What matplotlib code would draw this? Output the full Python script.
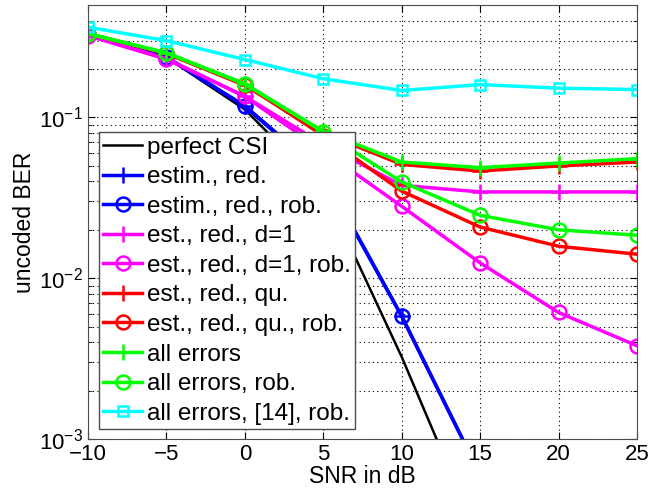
import numpy as np
import matplotlib
matplotlib.use("Agg")
import matplotlib.pyplot as plt
from matplotlib.ticker import LogLocator, NullFormatter

plt.rcParams['font.family'] = ['Liberation Sans', 'DejaVu Sans']

# SNR in dB
snr = [-10, -5, 0, 5, 10, 15, 20, 25]

# BER-Kurven
perfect_csi = [0.330, 0.236, 0.112, 0.036, 0.00324, 0.00023, 0.00002, 0.000002]
estim_red = [0.331, 0.237, 0.117, 0.044, 0.0058, 0.0006, 0.00006, 0.000006]
estim_red_rob = [0.331, 0.237, 0.118, 0.045, 0.0058, 0.0006, 0.00006, 0.000006]
est_d1 = [0.325, 0.232, 0.135, 0.068, 0.0378, 0.0344, 0.0344, 0.0344]
est_d1_rob = [0.322, 0.230, 0.135, 0.062, 0.0280, 0.01245, 0.00612, 0.0038]
est_qu = [0.332, 0.250, 0.158, 0.080, 0.0510, 0.0464, 0.0499, 0.0528]
est_qu_rob = [0.331, 0.250, 0.160, 0.077, 0.0348, 0.0208, 0.0158, 0.0141]
all_err = [0.332, 0.252, 0.161, 0.082, 0.0528, 0.0487, 0.0520, 0.0554]
all_err_rob = [0.331, 0.252, 0.162, 0.081, 0.0397, 0.0246, 0.0200, 0.0185]
all_err_14 = [0.364, 0.300, 0.229, 0.174, 0.147, 0.160, 0.152, 0.149]

labels = ['perfect CSI', 'estim., red.', 'estim., red., rob.', 'est., red., d=1',
          'est., red., d=1, rob.', 'est., red., qu.', 'est., red., qu., rob.',
          'all errors', 'all errors, rob.', 'all errors, [14], rob.']

blue = '#0000ff'
magenta = '#ff00ff'
red = '#ff0000'
green = '#00ff00'
cyan = '#00ffff'

fig = plt.figure(figsize=(6.5, 4.91), dpi=100)
ax = fig.add_axes([0.1354, 0.1059, 0.8446, 0.8839])

lw = 2.5
ax.plot(snr, perfect_csi, color='k', lw=1.8, label=labels[0])
ax.plot(snr, estim_red, color=blue, lw=lw, marker='+', ms=11, mew=1.8, label=labels[1])
ax.plot(snr, estim_red_rob, color=blue, lw=lw, marker='o', ms=10, mew=1.8, mfc='none', label=labels[2])
ax.plot(snr, est_d1, color=magenta, lw=lw, marker='+', ms=11, mew=1.8, label=labels[3])
ax.plot(snr, est_d1_rob, color=magenta, lw=lw, marker='o', ms=10, mew=1.8, mfc='none', label=labels[4])
ax.plot(snr, est_qu, color=red, lw=lw, marker='+', ms=11, mew=1.8, label=labels[5])
ax.plot(snr, est_qu_rob, color=red, lw=lw, marker='o', ms=10, mew=1.8, mfc='none', label=labels[6])
ax.plot(snr, all_err, color=green, lw=lw, marker='+', ms=11, mew=1.8, label=labels[7])
ax.plot(snr, all_err_rob, color=green, lw=lw, marker='o', ms=10, mew=1.8, mfc='none', label=labels[8])
ax.plot(snr, all_err_14, color=cyan, lw=lw, marker='s', ms=7, mew=1.8, mfc='none', label=labels[9])

ax.set_yscale('log')
ax.set_xlim(-10, 25)
ax.set_ylim(1e-3, 0.5)
ax.set_xticks([-10, -5, 0, 5, 10, 15, 20, 25])
ax.yaxis.set_major_locator(LogLocator(base=10, numticks=10))
ax.yaxis.set_minor_locator(LogLocator(base=10, subs=np.arange(2, 10), numticks=10))
ax.yaxis.set_minor_formatter(NullFormatter())

ax.grid(True, which='major', color='k', ls=(0, (1, 3)), lw=0.8)
ax.grid(True, which='minor', axis='y', color='k', ls=(0, (1, 3)), lw=0.8)
ax.tick_params(which='both', direction='in', top=True, right=True, labelsize=16)
ax.tick_params(which='major', length=5)
ax.tick_params(which='minor', length=3)
for s in ax.spines.values():
    s.set_color('0.3')

ax.set_xlabel('SNR in dB', fontsize=16.5, labelpad=0)
ax.set_ylabel('uncoded BER', fontsize=16.5, labelpad=2)

leg = ax.legend(loc='lower left', bbox_to_anchor=(0.02, 0.023), borderaxespad=0,
                fontsize=17.5, labelspacing=0.31, handlelength=1.6, handletextpad=0.2,
                borderpad=0.18, fancybox=False, framealpha=1, edgecolor='0.3')
leg.get_frame().set_linewidth(1.0)

fig.savefig('out.png', dpi=100)
